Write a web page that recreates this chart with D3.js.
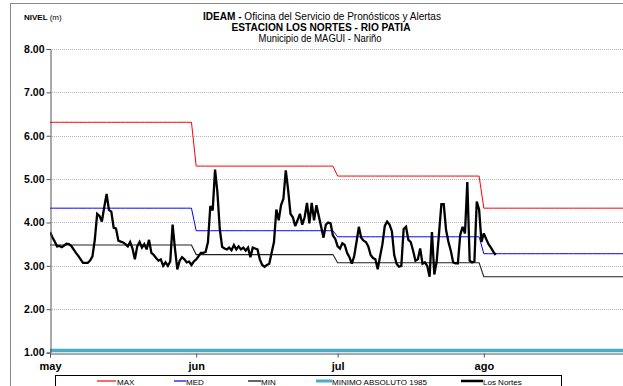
<!DOCTYPE html>
<html>
<head>
<meta charset="utf-8">
<script src="https://cdn.jsdelivr.net/npm/d3@7"></script>
<style>
  html, body { margin: 0; padding: 0; background: #fff; }
  svg { display: block; font-family: "Liberation Sans", Arial, sans-serif; }
</style>
</head>
<body>
<svg id="chart" width="623" height="386"></svg>
<script>
// Month labels on the time axis and level ticks (m)
const months = ["may", "jun", "jul", "ago"];
const monthStarts = ["2011-05-01", "2011-06-01", "2011-07-01", "2011-08-01"];
const yTicks = [1, 2, 3, 4, 5, 6, 7, 8];

// Monthly reference levels (m), one value per month may..ago
const maxLevels = [6.31, 5.30, 5.07, 4.33];
const medLevels = [4.33, 3.81, 3.67, 3.28];
const minLevels = [3.48, 3.26, 3.07, 2.75];
const minAbsoluto1985 = 1.05;

// Los Nortes station readings, two per day starting 1 May
const losNortesStart = "2011-05-01";
const losNortes = [
  3.78, 3.66, 3.56, 3.45, 3.46, 3.43, 3.47, 3.51, 3.50, 3.46,
  3.38, 3.30, 3.23, 3.15, 3.07, 3.07, 3.07, 3.12, 3.22, 3.60,
  4.20, 4.15, 4.02, 4.35, 4.66, 4.29, 4.25, 3.88, 3.86, 3.58,
  3.56, 3.54, 3.50, 3.45, 3.55, 3.40, 3.15, 3.45, 3.55, 3.42,
  3.50, 3.38, 3.60, 3.30, 3.25, 3.18, 3.12, 3.15, 3.00, 3.08,
  3.00, 3.10, 3.95, 3.40, 2.92, 3.12, 3.20, 3.15, 3.08, 3.10,
  3.02, 3.10, 3.15, 3.22, 3.30, 3.30, 3.32, 3.55, 4.38, 4.28,
  5.22, 4.70, 3.85, 3.44, 3.40, 3.38, 3.42, 3.36, 3.48, 3.38,
  3.45, 3.38, 3.42, 3.35, 3.42, 3.20, 3.42, 3.40, 3.38, 3.15,
  3.02, 2.98, 3.02, 3.05, 3.30, 3.55, 4.30, 4.05, 4.40, 4.55,
  5.20, 4.75, 4.20, 4.12, 3.92, 4.05, 4.20, 3.95, 4.12, 4.45,
  3.98, 4.45, 4.05, 4.40, 4.15, 3.90, 3.65, 3.95, 4.00, 3.98,
  3.70, 3.62, 3.45, 3.40, 3.52, 3.48, 3.30, 3.20, 3.05, 3.22,
  3.55, 3.90, 3.65, 3.58, 3.55, 3.45, 3.25, 3.18, 3.15, 2.92,
  3.22, 3.50, 3.92, 4.02, 3.95, 3.80, 3.25, 3.05, 2.98, 3.00,
  3.85, 3.90, 3.60, 3.55, 3.35, 3.12, 3.15, 3.40, 3.05, 3.08,
  3.00, 2.75, 3.78, 2.80, 3.10, 3.75, 4.42, 4.42, 3.82, 3.55,
  3.35, 3.08, 3.06, 3.06, 3.72, 3.90, 3.75, 4.93, 3.12, 3.08,
  3.10, 4.48, 4.30, 3.55, 3.75, 3.62, 3.50, 3.42, 3.33, 3.25
];

const parse = d3.timeParse("%Y-%m-%d");
const svg = d3.select("#chart");

const x = d3.scaleTime()
  .domain([parse("2011-05-01"), parse("2011-09-01")])
  .range([50, 630]);
const y = d3.scaleLinear().domain([1, 8]).range([352.6, 49]);

// Daily reference series built from the monthly levels
const refDays = d3.timeDay.range(parse("2011-05-01"), parse("2011-09-01"));
const monthIndex = d => d.getMonth() - 4;
const refSeries = levels => refDays.map(d => ({ date: d, value: levels[monthIndex(d)] }));

const t0 = parse(losNortesStart);
const nortesSeries = losNortes.map((v, i) => ({ date: d3.timeHour.offset(t0, i * 12), value: v }));

// Outer frame
svg.append("line").attr("x1", 10.5).attr("x2", 10.5).attr("y1", 3).attr("y2", 386)
  .attr("stroke", "#8a8a8a").attr("stroke-width", 1);
svg.append("line").attr("x1", 10).attr("x2", 623).attr("y1", 3.5).attr("y2", 3.5)
  .attr("stroke", "#8a8a8a").attr("stroke-width", 1);

// Gridlines
svg.append("g").selectAll("line").data(yTicks.filter(t => t > 1)).join("line")
  .attr("x1", 50).attr("x2", 623)
  .attr("y1", d => Math.round(y(d)) + 0.5).attr("y2", d => Math.round(y(d)) + 0.5)
  .attr("stroke", "#b4b4b4").attr("stroke-width", 1).attr("stroke-dasharray", "1,1");

svg.append("clipPath").attr("id", "plot-clip")
  .append("rect").attr("x", 50).attr("y", 40).attr("width", 580).attr("height", 320);

const line = d3.line().x(d => x(d.date)).y(d => y(d.value));
const plot = svg.append("g").attr("clip-path", "url(#plot-clip)");

plot.append("path").datum(refDays.map(d => ({ date: d, value: minAbsoluto1985 })))
  .attr("d", line).attr("fill", "none").attr("stroke", "#4bacc6").attr("stroke-width", 3.5);
plot.append("path").datum(refSeries(maxLevels)).attr("d", line)
  .attr("fill", "none").attr("stroke", "#ff0000").attr("stroke-width", 1);
plot.append("path").datum(refSeries(medLevels)).attr("d", line)
  .attr("fill", "none").attr("stroke", "#0000ff").attr("stroke-width", 1);
plot.append("path").datum(refSeries(minLevels)).attr("d", line)
  .attr("fill", "none").attr("stroke", "#222").attr("stroke-width", 1.1);
plot.append("path").datum(nortesSeries).attr("d", line)
  .attr("fill", "none").attr("stroke", "#000").attr("stroke-width", 2.3)
  .attr("stroke-linejoin", "miter").attr("stroke-miterlimit", 3);

// Axes
const yAxis = svg.append("g").attr("transform", "translate(50.5,0)")
  .call(d3.axisLeft(y).tickValues(yTicks).tickFormat(d3.format(".2f")).tickSize(4).tickPadding(2));
yAxis.select(".domain").attr("stroke", "#555");
yAxis.selectAll(".tick line").attr("stroke", "#555");
yAxis.selectAll("text").attr("font-size", 10.5).attr("font-weight", "bold").attr("fill", "#000")
  .attr("font-family", "Liberation Sans, Arial, sans-serif");

const xAxis = svg.append("g").attr("transform", "translate(0,353.5)")
  .call(d3.axisBottom(x).tickValues(monthStarts.map(parse)).tickFormat((d, i) => months[i])
    .tickSize(4).tickPadding(5));
xAxis.select(".domain").attr("stroke", "#555");
xAxis.selectAll(".tick line").attr("stroke", "#555");
xAxis.selectAll("text").attr("font-size", 11).attr("font-weight", "bold").attr("fill", "#000")
  .attr("font-family", "Liberation Sans, Arial, sans-serif");

// Titles
const title = svg.append("g").attr("font-size", 10.5).attr("text-anchor", "middle");
const t1 = title.append("text").attr("x", 322).attr("y", 19.5)
  .attr("textLength", 238).attr("lengthAdjust", "spacingAndGlyphs");
t1.append("tspan").attr("font-weight", "bold").text("IDEAM - ");
t1.append("tspan").text("Oficina del Servicio de Pronósticos y Alertas");
title.append("text").attr("x", 321).attr("y", 30.5).attr("font-weight", "bold")
  .attr("textLength", 179).attr("lengthAdjust", "spacingAndGlyphs")
  .text("ESTACION LOS NORTES - RIO PATIA");
title.append("text").attr("x", 320).attr("y", 41.5)
  .attr("textLength", 123).attr("lengthAdjust", "spacingAndGlyphs")
  .text("Municipio de MAGUI - Nariño");

const nivel = svg.append("text").attr("x", 24).attr("y", 20).attr("font-size", 8);
nivel.append("tspan").attr("font-weight", "bold").text("NIVEL ");
nivel.append("tspan").text("(m)");

// Legend
const legendItems = [
  { label: "MAX", color: "#ff0000", width: 1.2, x1: 97, x2: 116, tx: 117 },
  { label: "MED", color: "#0000ff", width: 1.2, x1: 174, x2: 186, tx: 186 },
  { label: "MIN", color: "#000000", width: 1.2, x1: 248, x2: 261, tx: 261 },
  { label: "MINIMO ABSOLUTO 1985", color: "#4bacc6", width: 3, x1: 316, x2: 332, tx: 332 },
  { label: "Los Nortes", color: "#000000", width: 2.5, x1: 461, x2: 483, tx: 483 }
];
const legend = svg.append("g");
legend.append("rect").attr("x", 55.5).attr("y", 375.5).attr("width", 506).attr("height", 20)
  .attr("fill", "#fff").attr("stroke", "#000").attr("stroke-width", 1);
legend.selectAll("line.key").data(legendItems).join("line").attr("class", "key")
  .attr("x1", d => d.x1).attr("x2", d => d.x2).attr("y1", 381).attr("y2", 381)
  .style("stroke", d => d.color).style("stroke-width", d => d.width);
legend.selectAll("text.label").data(legendItems).join("text").attr("class", "label")
  .attr("x", d => d.tx).attr("y", 384.5).attr("font-size", 8).text(d => d.label);
</script>
</body>
</html>
